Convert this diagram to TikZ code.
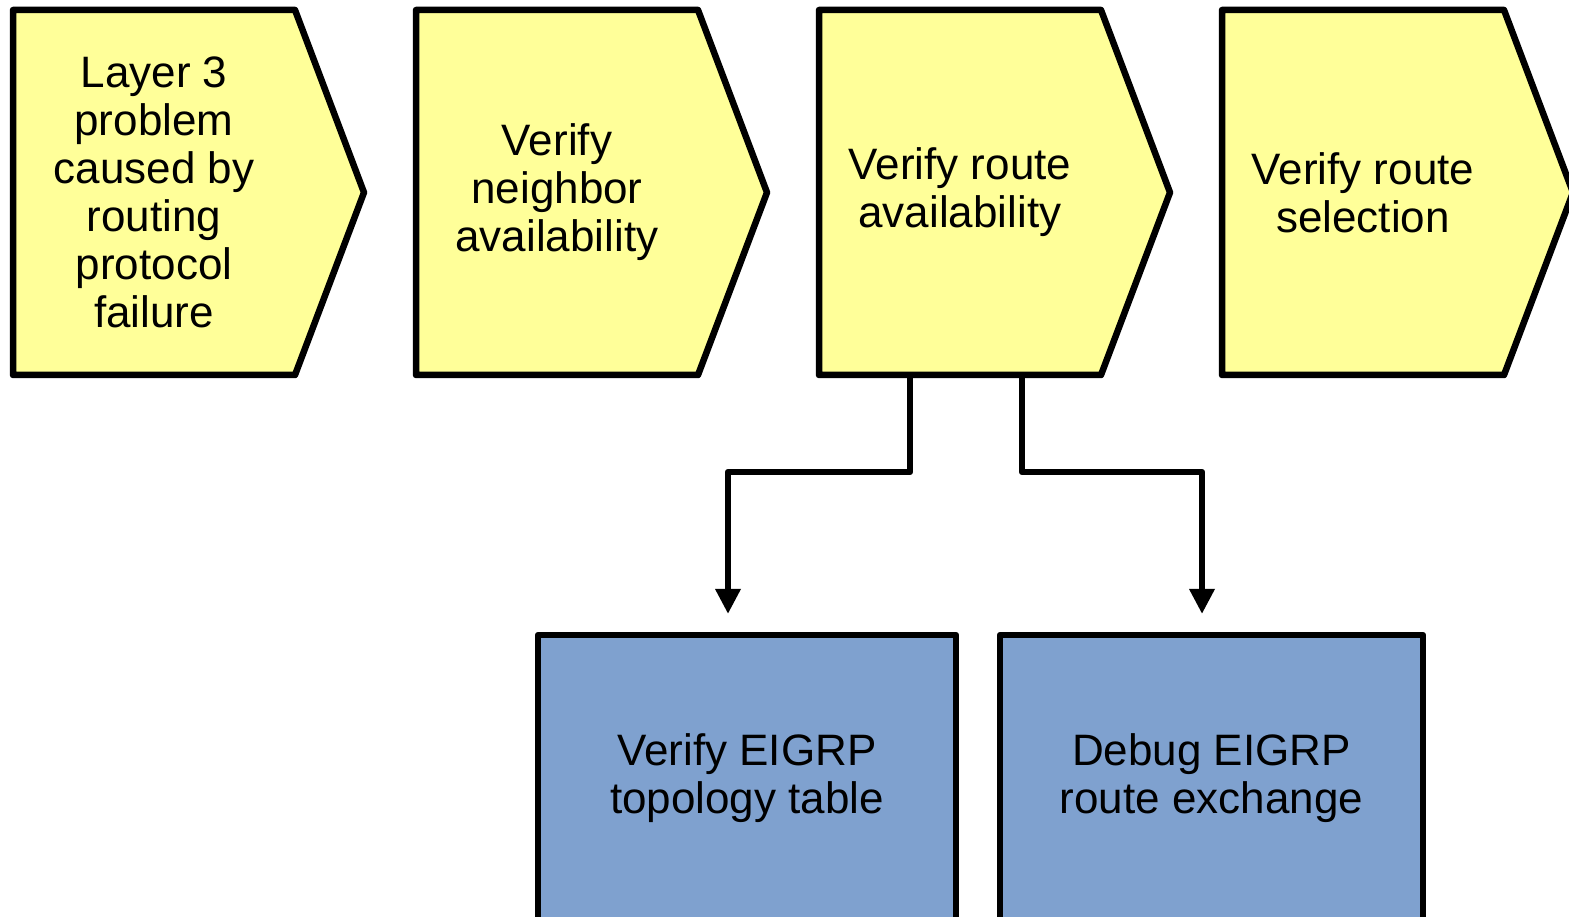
\documentclass[tikz,border=0pt]{standalone}
\usepackage{fontspec}
\setmainfont{Liberation Sans}
\usetikzlibrary{positioning, arrows.meta, calc, backgrounds}

\definecolor{stepyellow}{HTML}{FFFF99}
\definecolor{taskblue}{HTML}{7FA1CF}

\tikzset{
  stage/.style={minimum width=282pt, minimum height=365pt, inner sep=0pt, outer sep=0pt,
                align=center, font=\fontsize{44}{48}\selectfont},
  stageshape/.style={draw, line width=6.5pt, line join=round, fill=stepyellow},
  task/.style={draw, line width=6.5pt, line join=round, fill=taskblue, inner sep=0pt,
               outer sep=0pt, minimum height=286pt, align=center,
               font=\fontsize{44}{48}\selectfont},
  flow/.style={line width=6.5pt, line join=round, -{Triangle[width=24pt,length=25pt]},
               shorten >=21pt}
}

\begin{document}
\begin{tikzpicture}[x=1pt, y=1pt]
  \useasboundingbox (0,0) rectangle (1569,917);

  \node (problem) [stage] at (154,724.5) {Layer 3\\problem\\caused by\\routing\\protocol\\failure};
  \node (neighbor) [stage, right=121pt of problem] {Verify\\neighbor\\availability};
  \node (route) [stage, right=121pt of neighbor] {Verify route\\availability};
  \node (selection) [stage, right=121pt of route] {Verify route\\selection};

  \begin{scope}[on background layer]
    \foreach \n in {problem, neighbor, route, selection}
      \draw[stageshape] (\n.north west) -- (\n.north east) -- ($(\n.east)+(69,0)$)
        -- (\n.south east) -- (\n.south west) -- cycle;
  \end{scope}

  \node (topology) [task, minimum width=418pt] at (747,139) {Verify EIGRP\\topology table};
  \node (debug) [task, minimum width=423pt] at (1211.5,139) {Debug EIGRP\\route exchange};

  \draw[flow] ([xshift=-50pt]route.south) -- ++(0,-97) -| ([xshift=-19pt]topology.north);
  \draw[flow] ([xshift=62pt]route.south) -- ++(0,-97) -| ([xshift=-9.5pt]debug.north);
\end{tikzpicture}
\end{document}
